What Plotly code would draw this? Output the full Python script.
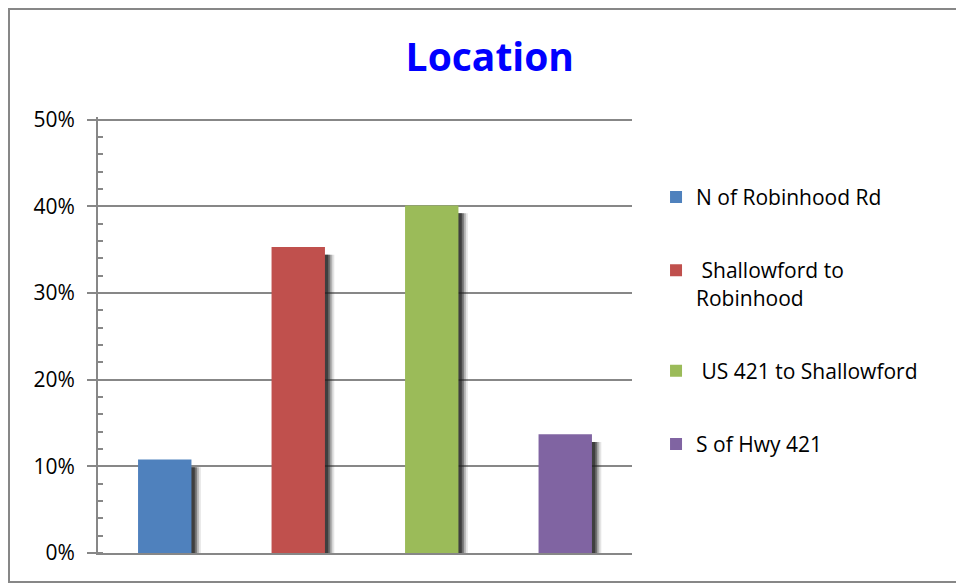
import plotly.graph_objs as go

# Data
categories = ["N of Robinhood Rd", "Shallowford to Robinhood", "US 421 to Shallowford", "S of Hwy 421"]
legend_labels = ["N of Robinhood Rd", " Shallowford to<br>Robinhood", " US 421 to Shallowford", "S of Hwy 421"]
shares = [0.108, 0.353, 0.401, 0.137]
colors = ["#4F81BD", "#C0504D", "#9BBB59", "#8064A2"]
y_ticks = [0, 0.1, 0.2, 0.3, 0.4, 0.5]

FONT = "Open Sans"
BAR_W = 0.4
GREY = "#878787"

fig = go.Figure()

# soft drop shadows behind each bar (a few layered translucent bars)
for shift, alpha in [(0.07, 0.12), (0.055, 0.25), (0.04, 0.45), (0.025, 0.6)]:
    fig.add_trace(go.Bar(
        x=categories,
        y=[v - 0.006 for v in shares],
        base=-0.003,
        width=BAR_W,
        offset=-BAR_W / 2 + shift,
        marker=dict(color="rgba(30,30,30,%s)" % alpha, line=dict(width=0)),
        showlegend=False,
        hoverinfo="skip",
    ))

for cat, lab, val, col in zip(categories, legend_labels, shares, colors):
    fig.add_trace(go.Bar(
        x=[cat],
        y=[val],
        name=lab,
        legendgroup=cat,
        width=BAR_W,
        offset=-BAR_W / 2,
        marker=dict(color=col, line=dict(width=0)),
    ))

# page body adds an 8px margin, so the figure is sized to fit the window
fig.update_layout(
    width=956,
    height=576,
    barmode="overlay",
    plot_bgcolor="white",
    paper_bgcolor="white",
    margin=dict(l=90, r=332, t=109, b=31),
    font=dict(family=FONT, size=21, color="black"),
    title=dict(
        text="<b>Location</b>",
        font=dict(family=FONT, size=39, color="#0000FF"),
        x=0.504, xanchor="center",
        y=0.914, yanchor="middle",
    ),
    legend=dict(
        x=1.045, xanchor="left",
        y=0.863, yanchor="top",
        font=dict(family=FONT, size=21, color="black"),
        tracegroupgap=43,
        valign="top",
        itemwidth=30,
        bgcolor="rgba(0,0,0,0)",
    ),
    showlegend=True,
)

fig.update_xaxes(
    showticklabels=False,
    showgrid=False,
    showline=True,
    linecolor=GREY,
    linewidth=2,
    ticks="",
    range=[-0.5, 3.5],
)

fig.update_yaxes(
    range=[0, 0.503],
    tickvals=y_ticks,
    tickformat=".0%",
    showgrid=True,
    gridcolor=GREY,
    gridwidth=1.5,
    showline=True,
    linecolor=GREY,
    linewidth=2,
    ticks="outside",
    ticklen=9,
    tickcolor=GREY,
    tickwidth=1.5,
    ticklabelstandoff=8,
    minor=dict(dtick=0.02, ticks="inside", ticklen=5, tickcolor=GREY, tickwidth=1.5, showgrid=False),
    zeroline=False,
)

# chart area border
fig.add_shape(
    type="rect", xref="paper", yref="paper",
    x0=(1 - 90) / 534, x1=(955 - 90) / 534,
    y0=-(574 - 545) / 436, y1=(545 - 1) / 436,
    line=dict(color=GREY, width=2),
    layer="below",
)

fig.write_html("out.html")
